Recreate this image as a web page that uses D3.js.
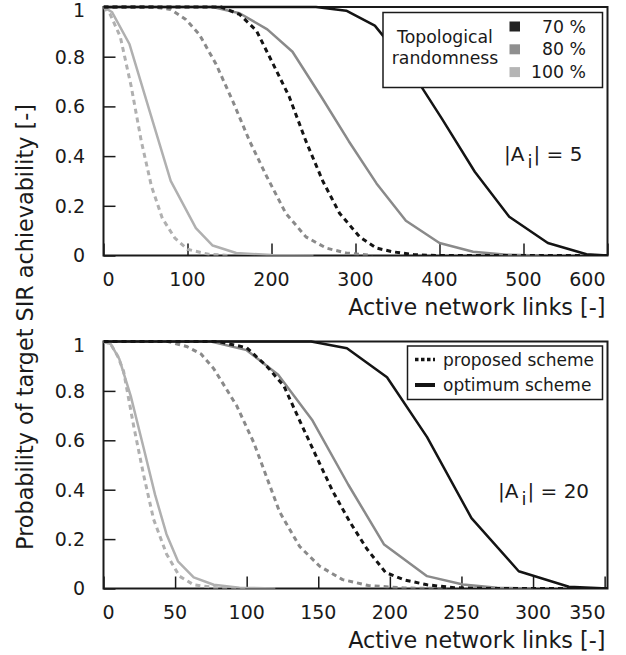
<!DOCTYPE html>
<html>
<head>
<meta charset="utf-8">
<script src="https://cdn.jsdelivr.net/npm/d3@7"></script>
<style>
  body { margin: 0; background: #fff; }
  svg text { font-family: "DejaVu Sans", Verdana, sans-serif; fill: #1a1a1a; }
</style>
</head>
<body>
<div id="chart"></div>
<script>
// Configuration
const width = 626;
const height = 655;

// Tick labels
const yTicks = [0, 0.2, 0.4, 0.6, 0.8, 1];
const xTicksTop = [0, 100, 200, 300, 400, 500, 600];
const xTicksBottom = [0, 50, 100, 150, 200, 250, 300, 350];

// Legend entries
const randomness = ["70 %", "80 %", "100 %"];
const schemes = ["proposed scheme", "optimum scheme"];

// |A_i| = 5  ->  [active links, probability]
const top100opt = [[0,1],[10,0.98],[31,0.85],[55,0.58],[80,0.30],[110,0.11],[130,0.04],[158,0.01],[200,0.002],[250,0]];
const top100prop = [[0,1],[8,0.97],[20,0.88],[33,0.68],[45,0.46],[57,0.28],[70,0.15],[85,0.07],[100,0.025],[125,0.005],[150,0]];
const top80prop = [[0,1],[60,1],[80,0.99],[98,0.95],[114,0.89],[134,0.77],[154,0.62],[174,0.46],[194,0.32],[217,0.17],[241,0.075],[265,0.03],[289,0.01],[320,0]];
const top80opt = [[0,1],[130,1],[162,0.975],[195,0.91],[225,0.82],[260,0.635],[292,0.46],[325,0.29],[360,0.14],[400,0.05],[440,0.015],[480,0.003],[520,0]];
const top70prop = [[0,1],[140,1],[162,0.97],[182,0.905],[202,0.77],[221,0.64],[241,0.46],[261,0.30],[281,0.17],[305,0.075],[325,0.03],[344,0.015],[370,0.003],[400,0],[600,0]];
const top70opt = [[0,1],[253,1],[289,0.985],[323,0.925],[365,0.75],[403,0.55],[442,0.337],[483,0.156],[529,0.05],[575,0.005],[600,0]];

// |A_i| = 20
const bot100opt = [[0,1],[5,0.99],[11,0.93],[19,0.78],[28,0.57],[36,0.38],[44,0.22],[52,0.11],[63,0.045],[77,0.015],[95,0.003],[120,0]];
const bot100prop = [[0,1],[5,0.99],[10,0.94],[14,0.88],[21,0.66],[28,0.46],[35,0.28],[44,0.14],[53,0.05],[63,0.015],[80,0.002],[100,0]];
const bot80prop = [[0,1],[45,1],[58,0.98],[68,0.95],[77,0.89],[93,0.74],[105,0.59],[114,0.45],[123,0.31],[137,0.17],[151,0.09],[167,0.036],[185,0.012],[210,0.002],[240,0]];
const bot80opt = [[0,1],[75,1],[100,0.965],[122,0.865],[146,0.68],[171,0.42],[196,0.178],[226,0.05],[251,0.016],[275,0.003],[300,0]];
const bot70prop = [[0,1],[80,1],[100,0.975],[114,0.90],[126,0.82],[137,0.68],[149,0.53],[160,0.395],[172,0.27],[184,0.16],[197,0.065],[210,0.035],[226,0.015],[245,0.003],[270,0],[352,0]];
const bot70opt = [[0,1],[145,1],[170,0.973],[198,0.855],[226,0.613],[257,0.285],[290,0.07],[325,0.007],[352,0]];

// Styles
const lineColor = { "70": "#141414", "80": "#8a8a8a", "100": "#b0b0b0" };
const swatchColor = { "70": "#222", "80": "#8f8f8f", "100": "#b5b5b5" };

const panels = [
    {
        id: "top", top: 7, bottom: 255.5, xMax: 600, ticks: xTicksTop, label: "5",
        series: [
            { data: top100opt, r: "100", dashed: false },
            { data: top100prop, r: "100", dashed: true },
            { data: top80prop, r: "80", dashed: true },
            { data: top80opt, r: "80", dashed: false },
            { data: top70opt, r: "70", dashed: false },
            { data: top70prop, r: "70", dashed: true }
        ]
    },
    {
        id: "bottom", top: 341.5, bottom: 588.5, xMax: 352, ticks: xTicksBottom, label: "20",
        series: [
            { data: bot100opt, r: "100", dashed: false },
            { data: bot100prop, r: "100", dashed: true },
            { data: bot80prop, r: "80", dashed: true },
            { data: bot80opt, r: "80", dashed: false },
            { data: bot70opt, r: "70", dashed: false },
            { data: bot70prop, r: "70", dashed: true }
        ]
    }
];

const left = 103.5;
const right = 607.5;

const svg = d3.select("#chart")
    .append("svg")
    .attr("width", width)
    .attr("height", height);

panels.forEach((p, pi) => {
    const x = d3.scaleLinear().domain([0, p.xMax]).range([left, right]);
    const y = d3.scaleLinear().domain([0, 1]).range([p.bottom, p.top]);
    const g = svg.append("g").attr("class", "panel-" + p.id);

    // clip to plot area
    g.append("clipPath").attr("id", "clip-" + p.id)
        .append("rect")
        .attr("x", left).attr("y", p.top - 2)
        .attr("width", right - left).attr("height", p.bottom - p.top + 2);

    // y axis ticks + labels
    const yAxis = d3.axisRight(y).tickValues(yTicks).tickSize(12).tickFormat("");
    g.append("g").attr("transform", `translate(${left},0)`).call(yAxis)
        .call(s => s.select(".domain").remove())
        .call(s => s.selectAll("line").attr("stroke", "#1a1a1a").attr("stroke-width", 1.5));
    g.selectAll(".ylab").data(yTicks).enter().append("text")
        .attr("class", "ylab")
        .attr("x", 85)
        .attr("y", d => y(d))
        .attr("dy", d => d === 1 ? "0.55em" : "0.36em")
        .attr("text-anchor", "end")
        .style("font-size", "19px")
        .text(d => d === 0 || d === 1 ? d : d3.format(".1f")(d));

    // x axis ticks (inward)
    const xAxis = d3.axisTop(x).tickValues(p.ticks).tickSize(12).tickFormat("");
    g.append("g").attr("transform", `translate(0,${p.bottom})`).call(xAxis)
        .call(s => s.select(".domain").remove())
        .call(s => s.selectAll("line").attr("stroke", "#1a1a1a").attr("stroke-width", 1.5));
    g.selectAll(".xlab").data(p.ticks).enter().append("text")
        .attr("class", "xlab")
        .attr("x", (d, i) => i === 0 ? x(d) - 1 : (i === p.ticks.length - 1 ? right - 2 : x(d)))
        .attr("y", p.bottom + 30.5)
        .attr("text-anchor", (d, i) => i === 0 ? "start" : (i === p.ticks.length - 1 ? "end" : "middle"))
        .style("font-size", "19px")
        .text(d => d);

    // frame
    g.append("rect")
        .attr("x", left).attr("y", p.top)
        .attr("width", right - left).attr("height", p.bottom - p.top)
        .attr("fill", "none")
        .attr("stroke", "#1a1a1a")
        .attr("stroke-width", 2);

    // curves
    const line = d3.line().x(d => x(d[0])).y(d => y(d[1]));
    g.append("g").attr("clip-path", `url(#clip-${p.id})`)
        .selectAll("path")
        .data(p.series)
        .enter().append("path")
        .attr("d", d => line(d.data))
        .attr("fill", "none")
        .attr("stroke", d => lineColor[d.r])
        .attr("stroke-width", d => d.dashed ? 3 : 2.5)
        .attr("stroke-dasharray", d => d.dashed ? "5,4" : null)
        .attr("stroke-linejoin", "round");

    // x axis title
    svg.append("text")
        .attr("x", right - 2)
        .attr("y", p.bottom + 59)
        .attr("text-anchor", "end")
        .style("font-size", "22.3px")
        .text("Active network links [-]");

    // |A_i| annotation
    const ann = svg.append("text")
        .attr("x", pi === 0 ? 504 : 498)
        .attr("y", pi === 0 ? 161 : 498)
        .style("font-size", "20px");
    ann.append("tspan").text("|A");
    ann.append("tspan").attr("dx", 3).attr("dy", 7).style("font-size", "18px").text("i");
    ann.append("tspan").attr("dx", 1).attr("dy", -7).text("| = " + p.label);
});

// y axis title
svg.append("text")
    .attr("transform", "translate(33,327) rotate(-90)")
    .attr("text-anchor", "middle")
    .style("font-size", "22.3px")
    .text("Probability of target SIR achievability [-]");

// Legend: topological randomness
const leg1 = svg.append("g");
leg1.append("rect")
    .attr("x", 383).attr("y", 12.5).attr("width", 219.5).attr("height", 75)
    .attr("fill", "#fff").attr("stroke", "#1a1a1a").attr("stroke-width", 1.5);
leg1.append("text").attr("x", 445).attr("y", 42.5).attr("text-anchor", "middle")
    .style("font-size", "17.3px").text("Topological");
leg1.append("text").attr("x", 445).attr("y", 63.5).attr("text-anchor", "middle")
    .style("font-size", "17.3px").text("randomness");
randomness.forEach((r, i) => {
    const key = r.replace(" %", "");
    leg1.append("rect")
        .attr("x", 509.5).attr("y", 21.5 + i * 22.8)
        .attr("width", 10.5).attr("height", 10)
        .attr("fill", swatchColor[key]);
    leg1.append("text")
        .attr("x", 586).attr("y", 32.5 + i * 22.8)
        .attr("text-anchor", "end")
        .style("font-size", "17.3px")
        .text(r);
});

// Legend: schemes
const leg2 = svg.append("g");
leg2.append("rect")
    .attr("x", 407.5).attr("y", 346).attr("width", 195).attr("height", 53.5)
    .attr("fill", "#fff").attr("stroke", "#1a1a1a").attr("stroke-width", 1.5);
schemes.forEach((s, i) => {
    leg2.append("line")
        .attr("x1", 415).attr("x2", 435)
        .attr("y1", 359.5 + i * 25.5).attr("y2", 359.5 + i * 25.5)
        .attr("stroke", "#141414")
        .attr("stroke-width", i === 0 ? 3.5 : 4)
        .attr("stroke-dasharray", i === 0 ? "3.5,2.5" : null);
    leg2.append("text")
        .attr("x", 443)
        .attr("y", 365.5 + i * 25.5)
        .style("font-size", "17px")
        .text(s);
});
</script>
</body>
</html>
